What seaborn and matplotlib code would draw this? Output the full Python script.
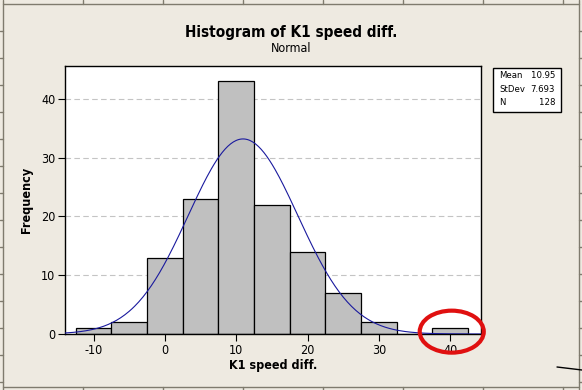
import numpy as np
import pandas as pd
import matplotlib
matplotlib.use("Agg")
import matplotlib.pyplot as plt
import seaborn as sns
from matplotlib.patches import Ellipse, Rectangle
from matplotlib.lines import Line2D

# histogram data (bin centres, width 5)
bin_centers = [-10, -5, 0, 5, 10, 15, 20, 25, 30, 35, 40]
counts = [1, 2, 13, 23, 43, 22, 14, 7, 2, 0, 1]
bin_width = 5
mean_val = 10.95
std_val = 7.693
n_obs = 128
x_ticks = [-10, 0, 10, 20, 30, 40]
y_ticks = [0, 10, 20, 30, 40]

bg = "#EEEAE1"
sns.set_style("white")
plt.rcParams["font.family"] = ["DejaVu Sans"]
plt.rcParams["font.stretch"] = "condensed"
plt.rcParams["axes.unicode_minus"] = False
plt.rcParams["text.color"] = "black"
plt.rcParams["axes.labelcolor"] = "black"

df = pd.DataFrame({"x": bin_centers, "n": counts})
edges = [c - bin_width / 2 for c in bin_centers] + [bin_centers[-1] + bin_width / 2]

fig = plt.figure(figsize=(5.82, 3.90), dpi=100, facecolor=bg)
ax = fig.add_axes([65 / 582, 1 - 334 / 390, (481 - 65) / 582, (334 - 66) / 390])
ax.set_facecolor("white")

sns.histplot(data=df, x="x", weights="n", bins=edges, color="#C0C0C0",
             edgecolor="black", linewidth=0.9, alpha=1, ax=ax, zorder=2)

# fitted normal curve scaled to counts
xs = np.linspace(-14, 44.3, 300)
fit = n_obs * bin_width * np.exp(-0.5 * ((xs - mean_val) / std_val) ** 2) / (std_val * np.sqrt(2 * np.pi))
sns.lineplot(x=xs, y=fit, color="#1A1A9E", linewidth=0.8, ax=ax, zorder=3)

ax.set_xlim(-14, 44.3)
ax.set_ylim(0, 45.6)
ax.set_xticks(x_ticks)
ax.set_yticks(y_ticks)
ax.yaxis.grid(True, linestyle=(0, (5, 3)), color="#C4C4C4", linewidth=0.8)
ax.set_axisbelow(True)
for s in ax.spines.values():
    s.set_color("black")
    s.set_linewidth(1.0)
ax.tick_params(axis="both", direction="out", length=5, width=0.8, labelsize=9,
               colors="black", labelcolor="black", pad=2, left=True, bottom=True)
ax.set_xlabel("K1 speed diff.", fontsize=9, fontweight="bold", labelpad=2, color="black")
ax.set_ylabel("Frequency", fontsize=9, fontweight="bold", labelpad=6, color="black")

fig.text(291 / 582, 1 - 33 / 390, "Histogram of K1 speed diff.", ha="center", va="center",
         fontsize=11, fontweight="bold", color="black")
fig.text(291 / 582, 1 - 48.5 / 390, "Normal", ha="center", va="center", fontsize=9, color="black")

# stats box
fig.add_artist(Rectangle((493 / 582, 1 - 112 / 390), 68 / 582, 44 / 390,
                         transform=fig.transFigure, facecolor="white", edgecolor="black", linewidth=1.0))
for i, (lab, val) in enumerate([("Mean", f"{mean_val:.2f}"), ("StDev", f"{std_val:.3f}"), ("N", f"{n_obs}")]):
    yy = 1 - (75.7 + 13.3 * i) / 390
    fig.text(499 / 582, yy, lab, ha="left", va="center", fontsize=6.8, color="black")
    fig.text(555 / 582, yy, val, ha="right", va="center", fontsize=6.8, color="black")

# red circle around the outlier
ax.add_patch(Ellipse((40.2, 0.4), 64 / 7.13, 42 / 5.88, fill=False, edgecolor="#E01010",
                     linewidth=3, clip_on=False, zorder=5))

# spreadsheet frame behind the graph
fc = "#7F7B6E"
fig.add_artist(Line2D([3 / 582, 3 / 582], [0, 1], transform=fig.transFigure, color=fc, lw=1))
fig.add_artist(Line2D([3 / 582, 579 / 582], [1 - 4 / 390, 1 - 4 / 390], transform=fig.transFigure, color=fc, lw=1))
fig.add_artist(Line2D([3 / 582, 579 / 582], [1 - 387 / 390, 1 - 387 / 390], transform=fig.transFigure, color=fc, lw=1))
fig.add_artist(Line2D([579 / 582, 579 / 582], [0, 1], transform=fig.transFigure, color=fc, lw=1))
for xt in range(83, 580, 80):
    fig.add_artist(Line2D([xt / 582, xt / 582], [1 - 4 / 390, 1], transform=fig.transFigure, color=fc, lw=1))
    fig.add_artist(Line2D([xt / 582, xt / 582], [0, 1 - 387 / 390], transform=fig.transFigure, color=fc, lw=1))
for yt in range(31, 388, 27):
    fig.add_artist(Line2D([0, 3 / 582], [1 - yt / 390, 1 - yt / 390], transform=fig.transFigure, color=fc, lw=1))
    fig.add_artist(Line2D([579 / 582, 1], [1 - yt / 390, 1 - yt / 390], transform=fig.transFigure, color=fc, lw=1))
fig.add_artist(Line2D([557 / 582, 1], [1 - 367 / 390, 1 - 370 / 390], transform=fig.transFigure, color="black", lw=1))

fig.savefig("out.png", dpi=100, facecolor=bg)
